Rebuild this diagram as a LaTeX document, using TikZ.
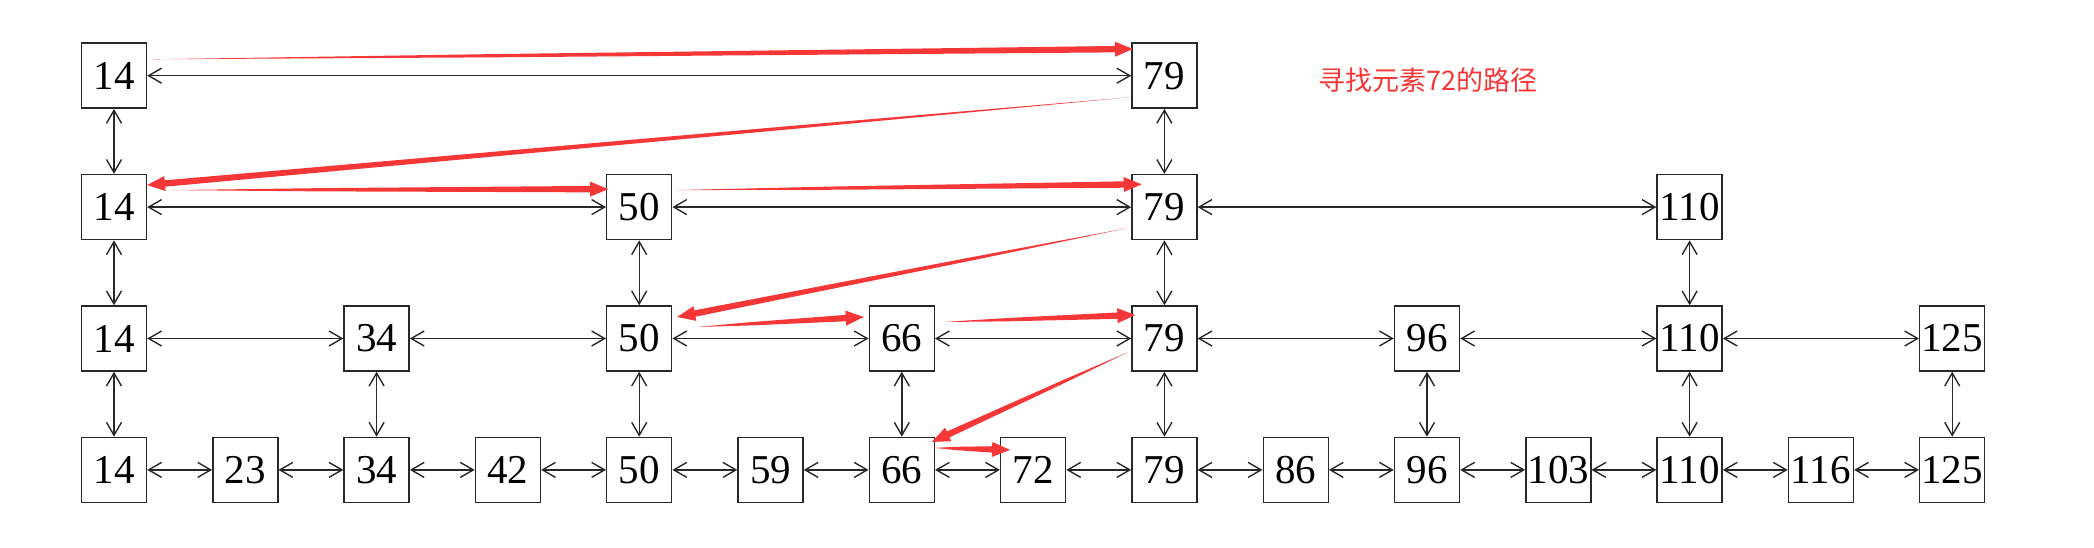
\documentclass[tikz,border=0pt]{standalone}
\usepackage{fontspec}
\setmainfont{Liberation Serif}
\newfontfamily\cjk{Noto Sans CJK SC}
\usetikzlibrary{arrows.meta,calc}
\definecolor{pathred}{RGB}{245,55,55}
\definecolor{linegray}{RGB}{40,40,40}
\newcommand\patharrow[2]{%
  \path ($(#2)!18pt!(#1)$) coordinate (parb);
  \path ($(#1)!0.35!(parb)$) coordinate (parm);
  \fill[pathred] (#1) -- ($(parm)!1.6pt!90:(#2)$) -- ($(parb)!3.2pt!90:(#2)$) -- ($(parb)!7.5pt!90:(#2)$) -- (#2)
     -- ($(parb)!7.5pt!-90:(#2)$) -- ($(parb)!3.2pt!-90:(#2)$) -- ($(parm)!1.6pt!-90:(#2)$) -- cycle;}
\tikzset{
  cell/.style={draw=linegray, line width=1.4pt, minimum size=65pt, inner sep=0pt,
    font=\fontsize{41}{41}\selectfont},
  link/.style={linegray, line width=1.4pt,
    {Straight Barb[length=13pt,width=15pt]}-{Straight Barb[length=13pt,width=15pt]}}
}
\begin{document}
\begin{tikzpicture}[x=1pt,y=-1pt]
\useasboundingbox (0,0) rectangle (2094,548);
% row 0
\foreach \i/\t in {0/14,8/79}
  \node[cell] (n0c\i) at ({114+131.3*\i},75.7) {\t};
% row 1
\foreach \i/\t in {0/14,4/50,8/79,12/110}
  \node[cell] (n1c\i) at ({114+131.3*\i},207.1) {\t};
% row 2
\foreach \i/\t in {0/14,2/34,4/50,6/66,8/79,10/96,12/110,14/125}
  \node[cell] (n2c\i) at ({114+131.3*\i},338.5) {\t};
% row 3
\foreach \i/\t in {0/14,1/23,2/34,3/42,4/50,5/59,6/66,7/72,8/79,9/86,10/96,11/103,12/110,13/116,14/125}
  \node[cell] (n3c\i) at ({114+131.3*\i},469.9) {\t};
% horizontal links
\draw[link] (n0c0) -- (n0c8);
\foreach \a/\b in {0/4,4/8,8/12} \draw[link] (n1c\a) -- (n1c\b);
\foreach \a/\b in {0/2,2/4,4/6,6/8,8/10,10/12,12/14} \draw[link] (n2c\a) -- (n2c\b);
\foreach \a/\b in {0/1,1/2,2/3,3/4,4/5,5/6,6/7,7/8,8/9,9/10,10/11,11/12,12/13,13/14} \draw[link] (n3c\a) -- (n3c\b);
% vertical links
\foreach \i in {0,8} \draw[link] (n0c\i) -- (n1c\i);
\foreach \i in {0,4,8,12} \draw[link] (n1c\i) -- (n2c\i);
\foreach \i in {0,2,4,6,8,10,12,14} \draw[link] (n2c\i) -- (n3c\i);
% label
\node[text=pathred, font=\cjk\fontsize{27}{27}\selectfont] (title) at (1428,80) {寻找元素72的路径};
% search path
\coordinate (s1) at ($(n0c0)+(37.5,-16.4)$); \coordinate (e1) at ($(n0c8)+(-31.4,-26.7)$);
\coordinate (s2) at ($(n0c8)+(-31.4,21.3)$); \coordinate (e2) at ($(n1c0)+(33,-22)$);
\coordinate (s3) at ($(n1c0)+(57.6,-17)$);   \coordinate (e3) at ($(n1c4)+(-31,-18)$);
\coordinate (s4) at ($(n1c4)+(36,-17)$);     \coordinate (e4) at ($(n1c8)+(-22.7,-22.8)$);
\coordinate (s5) at ($(n1c8)+(-37,21)$);     \coordinate (e5) at ($(n2c4)+(38,-21.5)$);
\coordinate (s6) at ($(n2c4)+(58,-11.5)$);   \coordinate (e6) at ($(n2c6)+(-38,-21.5)$);
\coordinate (s7) at ($(n2c6)+(42,-16.5)$);   \coordinate (e7) at ($(n2c8)+(-29,-23.5)$);
\coordinate (s8) at ($(n2c8)+(-36,13.5)$);   \coordinate (e8) at ($(n3c6)+(30,-28)$);
\coordinate (s9) at ($(n3c6)+(33,-22)$);     \coordinate (e9) at ($(n3c7)+(-23,-20)$);
\foreach \k in {1,...,9} \patharrow{s\k}{e\k};
\end{tikzpicture}
\end{document}
